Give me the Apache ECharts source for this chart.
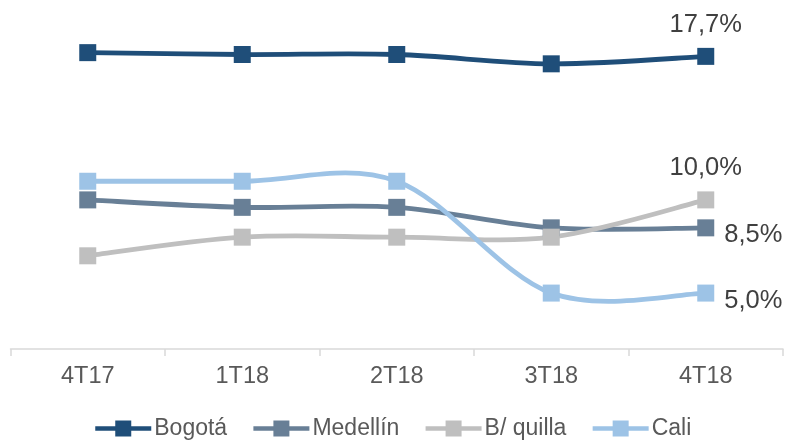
<!DOCTYPE html>
<html>
<head>
<meta charset="utf-8">
<script src="https://cdn.jsdelivr.net/npm/echarts@6/dist/echarts.min.js"></script>
<style>
  html, body { margin: 0; padding: 0; background: #ffffff; }
  #chart { width: 788px; height: 441px; }
</style>
</head>
<body>
<div id="chart"></div>
<script>
// Quarterly rates by city (%)
var categories = ['4T17', '1T18', '2T18', '3T18', '4T18'];
var bogota   = [17.9, 17.8, 17.8, 17.3, 17.7];
var medellin = [10.0, 9.6, 9.6, 8.5, 8.5];
var barranquilla = [7.0, 8.0, 8.0, 8.0, 10.0];
var cali     = [11.0, 11.0, 11.0, 5.0, 5.0];

var seriesNames = ['Bogotá', 'Medellín', 'B/ quilla', 'Cali'];
var seriesColors = ['#1F4E79', '#687F96', '#BFBFBF', '#9DC3E6'];
var allValues = [bogota, medellin, barranquilla, cali];

var FONT = 'Liberation Sans, Arial, sans-serif';
var LINE_W = 4.8;

function fmt(v) {
  return v.toFixed(1).replace('.', ',') + '%';
}

// Label on the last point only
var labelSpec = [
  ['top', [0, -5]],
  ['right', [5, 7]],
  ['top', [0, -5]],
  ['right', [5, 8]]
];

function withEndLabel(values, spec) {
  return values.map(function (v, i) {
    if (i !== values.length - 1) return v;
    return {
      value: v,
      label: {
        show: true,
        position: spec[0],
        offset: spec[1],
        formatter: function (p) { return fmt(p.value); },
        color: '#404040',
        fontSize: 25.5,
        fontFamily: FONT
      }
    };
  });
}

// Smoothed curve through the points: cubic Bezier segments with
// Catmull-Rom style tangents (1/6 of the neighbour span).
function curveSeries(vals, k) {
  return {
    name: seriesNames[k],
    type: 'custom',
    z: 2,
    silent: true,
    data: vals.map(function (v, i) { return [i, v]; }),
    encode: { x: 0, y: 1 },
    renderItem: function (params, api) {
      var i = params.dataIndex;
      var n = vals.length;
      if (i >= n - 1) return null;
      var pt = function (j) { return api.coord([j, vals[j]]); };
      var p0 = pt(i), p1 = pt(i + 1);
      var pPrev = i > 0 ? pt(i - 1) : p0;
      var pNext = i + 2 < n ? pt(i + 2) : p1;
      return {
        type: 'bezierCurve',
        shape: {
          x1: p0[0], y1: p0[1],
          x2: p1[0], y2: p1[1],
          cpx1: p0[0] + (p1[0] - pPrev[0]) / 6,
          cpy1: p0[1] + (p1[1] - pPrev[1]) / 6,
          cpx2: p1[0] - (pNext[0] - p0[0]) / 6,
          cpy2: p1[1] - (pNext[1] - p0[1]) / 6
        },
        style: {
          stroke: seriesColors[k],
          lineWidth: LINE_W,
          fill: null,
          lineCap: 'round'
        }
      };
    }
  };
}

// Marker series (carry legend entries and end labels)
var markerSeries = allValues.map(function (vals, k) {
  return {
    name: seriesNames[k],
    type: 'line',
    z: 3,
    symbol: 'rect',
    symbolSize: 17,
    color: seriesColors[k],
    lineStyle: { width: LINE_W, color: seriesColors[k], opacity: 0 },
    itemStyle: { color: seriesColors[k] },
    data: withEndLabel(vals, labelSpec[k])
  };
});

var curves = allValues.map(curveSeries);

var chart = echarts.init(document.getElementById('chart'), null, { renderer: 'canvas' });
chart.setOption({
  animation: false,
  backgroundColor: '#ffffff',
  grid: { left: 10.5, right: 5, top: 13.5, bottom: 92, containLabel: false },
  xAxis: {
    type: 'category',
    data: categories,
    boundaryGap: true,
    axisLine: { show: true, lineStyle: { color: '#D9D9D9', width: 1.5 } },
    axisTick: { show: true, length: 7, lineStyle: { color: '#D9D9D9', width: 1.5 } },
    axisLabel: {
      color: '#595959',
      fontSize: 23.5,
      margin: 16,
      fontFamily: FONT
    }
  },
  yAxis: {
    type: 'value',
    min: 2,
    max: 20,
    show: false,
    splitLine: { show: false }
  },
  legend: {
    data: seriesNames.map(function (nm, k) {
      return {
        name: nm,
        lineStyle: { color: seriesColors[k], width: 4.5, opacity: 1 },
        itemStyle: { color: seriesColors[k] }
      };
    }),
    bottom: -4,
    left: 88,
    itemWidth: 56,
    itemHeight: 20,
    itemGap: 24,
    textStyle: {
      color: '#595959',
      fontSize: 23,
      fontFamily: FONT,
      padding: [0, 0, 0, -2]
    }
  },
  series: markerSeries.concat(curves)
});
</script>
</body>
</html>
